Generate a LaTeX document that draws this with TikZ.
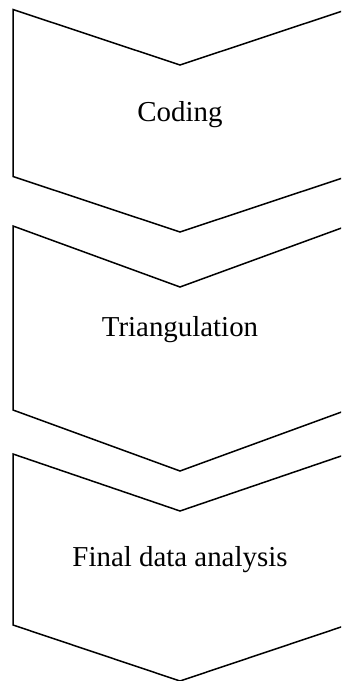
\documentclass[tikz,border=0pt]{standalone}
\usepackage{fontspec}
\setmainfont{Liberation Serif}
\begin{document}
\begin{tikzpicture}[x=1bp,y=-1bp,
  chev/.style={draw=black,fill=white,line width=1.5bp,line join=miter},
  lbl/.style={font=\fontsize{29}{34}\selectfont,inner sep=0pt,anchor=base}]
\useasboundingbox (0,0) rectangle (341,681);
\clip (0,0) rectangle (341,681);
\fill[white] (0,0) rectangle (341,681);
% chevron 1
\draw[chev] (13,9.5) -- (180,65) -- (347,9.5) -- (347,176.5) -- (180,232) -- (13,176.5) -- cycle;
% chevron 2
\draw[chev] (13,226) -- (180,287) -- (347,226) -- (347,410) -- (180,471) -- (13,410) -- cycle;
% chevron 3
\draw[chev] (13,454) -- (180,511) -- (347,454) -- (347,625) -- (180,681) -- (13,625) -- cycle;
\node[lbl] (coding) at (180,122) {Coding};
\node[lbl] (tri) at (180,336.5) {Triangulation};
\node[lbl] (final) at (180,566) {Final data analysis};
\end{tikzpicture}
\end{document}
